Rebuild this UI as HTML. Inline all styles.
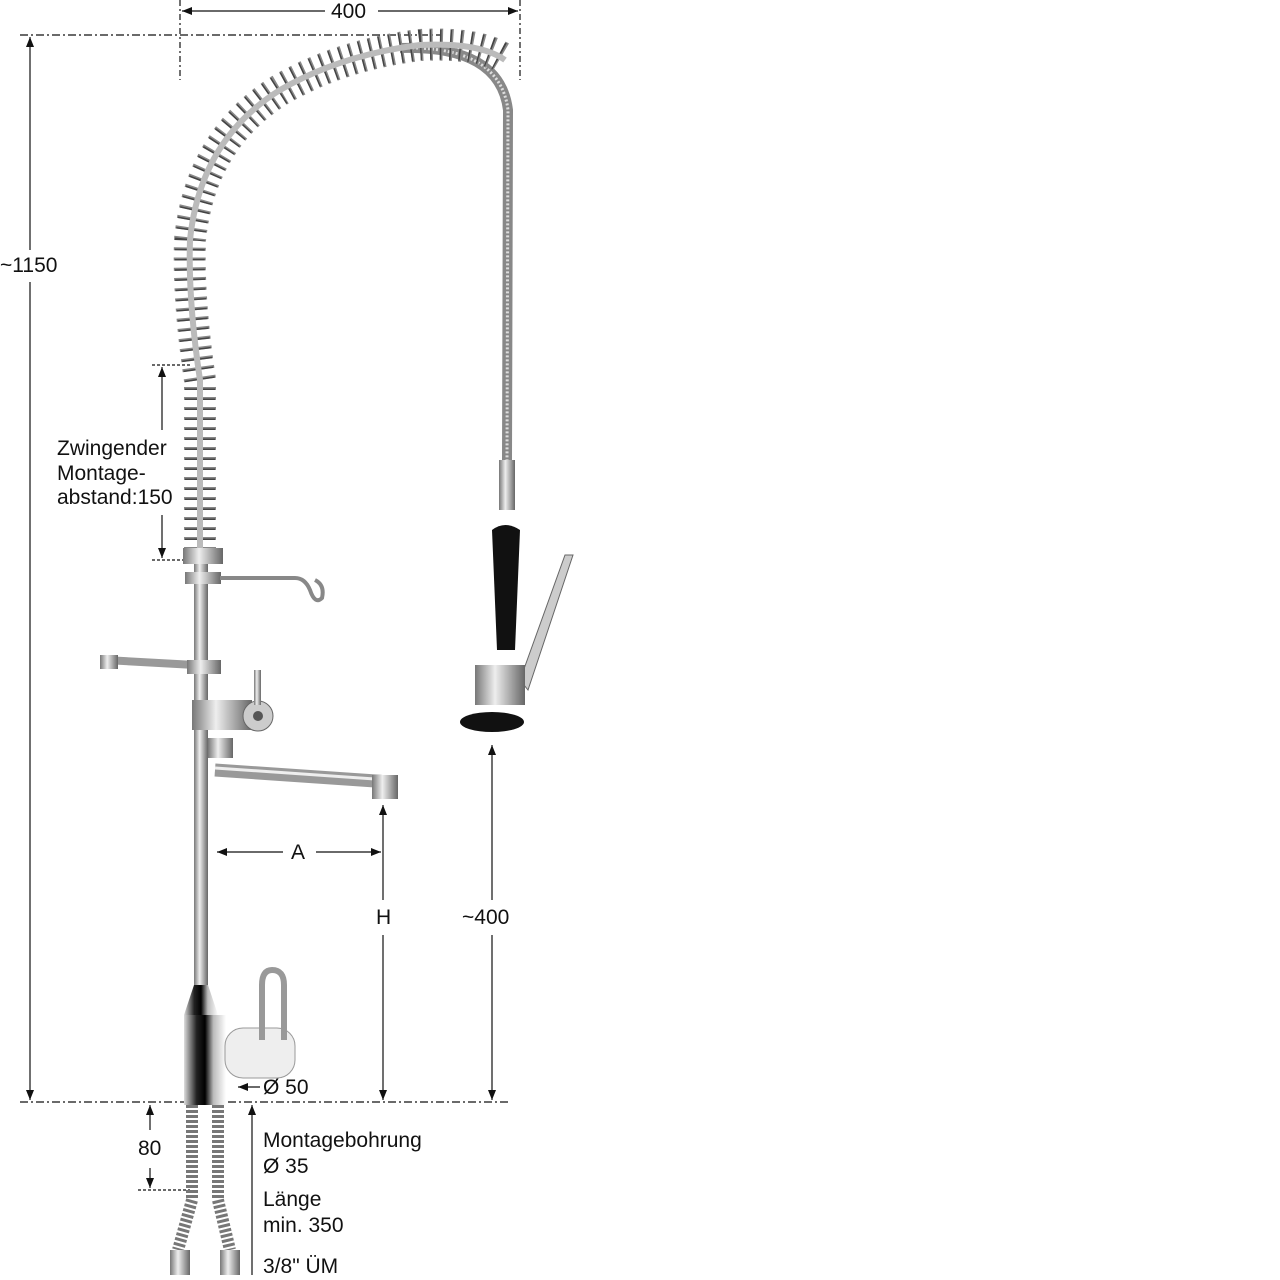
<!DOCTYPE html>
<html><head><meta charset="utf-8"><style>
html,body{margin:0;padding:0;background:#fff;}
svg{display:block}
text{font-family:"Liberation Sans",sans-serif;font-size:21px;fill:#111}
</style></head><body>
<svg width="1280" height="1280" viewBox="0 0 1280 1280" xmlns="http://www.w3.org/2000/svg">
<defs>
<marker id="a" viewBox="0 0 10 10" refX="10" refY="5" markerWidth="10" markerHeight="10" orient="auto-start-reverse" markerUnits="userSpaceOnUse"><path d="M0,1 L10,5 L0,9 z" fill="#111"/></marker>
<linearGradient id="steel" x1="0" x2="1"><stop offset="0" stop-color="#777"/><stop offset=".4" stop-color="#eee"/><stop offset="1" stop-color="#666"/></linearGradient>
<linearGradient id="chrome" x1="0" x2="1"><stop offset="0" stop-color="#ddd"/><stop offset=".3" stop-color="#222"/><stop offset=".5" stop-color="#000"/><stop offset=".7" stop-color="#bbb"/><stop offset="1" stop-color="#fff"/></linearGradient>
</defs>
<g stroke="#111" stroke-width="1.2" fill="none">
<line x1="180" y1="0" x2="180" y2="80" stroke-dasharray="6,3,2,3"/>
<line x1="520" y1="0" x2="520" y2="80" stroke-dasharray="6,3,2,3"/>
<line x1="182" y1="11" x2="325" y2="11" marker-start="url(#a)"/>
<line x1="378" y1="11" x2="518" y2="11" marker-end="url(#a)"/>
<line x1="20" y1="35" x2="440" y2="35" stroke-dasharray="8,3,2,3"/>
<line x1="20" y1="1102" x2="510" y2="1102" stroke-dasharray="8,3,2,3"/>
<line x1="30" y1="37" x2="30" y2="250" marker-start="url(#a)"/>
<line x1="30" y1="282" x2="30" y2="1100" marker-end="url(#a)"/>
<line x1="152" y1="365" x2="190" y2="365" stroke-dasharray="3,2"/>
<line x1="152" y1="560" x2="190" y2="560" stroke-dasharray="3,2"/>
<line x1="162" y1="367" x2="162" y2="430" marker-start="url(#a)"/>
<line x1="162" y1="515" x2="162" y2="558" marker-end="url(#a)"/>
<line x1="217" y1="852" x2="283" y2="852" marker-start="url(#a)"/>
<line x1="316" y1="852" x2="381" y2="852" marker-end="url(#a)"/>
<line x1="383" y1="805" x2="383" y2="900" marker-start="url(#a)"/>
<line x1="383" y1="935" x2="383" y2="1100" marker-end="url(#a)"/>
<line x1="492" y1="745" x2="492" y2="900" marker-start="url(#a)"/>
<line x1="492" y1="935" x2="492" y2="1100" marker-end="url(#a)"/>
<line x1="150" y1="1105" x2="150" y2="1130" marker-start="url(#a)"/>
<line x1="150" y1="1168" x2="150" y2="1188" marker-end="url(#a)"/>
<line x1="138" y1="1190" x2="190" y2="1190" stroke-dasharray="3,2"/>
<line x1="252" y1="1105" x2="252" y2="1275" marker-start="url(#a)"/>
<line x1="260" y1="1087" x2="238" y2="1087" marker-end="url(#a)"/>
</g>
<path d="M400,48 Q500,45 508,110 L507,460" stroke="#888" stroke-width="10" fill="none"/>
<path d="M400,48 Q500,45 508,110 L507,460" stroke="#ddd" stroke-width="3" fill="none" stroke-dasharray="2,2"/>
<path d="M200,560 L200,380 Q188,300 190,240 Q200,140 280,90 Q340,55 420,45 Q480,42 505,60" stroke="#888" stroke-width="32" fill="none" stroke-dasharray="3,7"/>
<path d="M200,560 L200,380 Q188,300 190,240 Q200,140 280,90 Q340,55 420,45 Q480,42 505,60" stroke="#333" stroke-width="30" fill="none" stroke-dasharray="1.5,8.5" opacity=".8"/>
<path d="M200,560 L200,380 Q188,300 190,240 Q200,140 280,90 Q340,55 420,45 Q480,42 505,60" stroke="#bbb" stroke-width="6" fill="none"/>
<rect x="194" y="555" width="14" height="430" fill="url(#steel)"/>
<rect x="183" y="548" width="40" height="16" fill="url(#steel)"/>
<rect x="185" y="572" width="36" height="12" fill="url(#steel)"/>
<path d="M220,578 L295,578 Q305,578 310,590 Q315,605 322,598 Q325,585 315,580" stroke="#888" stroke-width="4" fill="none"/>
<path d="M105,660 L195,665" stroke="#999" stroke-width="8"/>
<rect x="100" y="655" width="18" height="14" fill="url(#steel)"/>
<rect x="187" y="660" width="34" height="14" fill="url(#steel)"/>
<rect x="192" y="700" width="60" height="30" fill="url(#steel)"/>
<circle cx="258" cy="716" r="15" fill="#ccc" stroke="#666"/>
<circle cx="258" cy="716" r="5" fill="#555"/>
<rect x="254" y="670" width="7" height="35" fill="url(#steel)"/>
<rect x="208" y="738" width="25" height="20" fill="url(#steel)"/>
<path d="M215,770 L390,782" stroke="#999" stroke-width="13"/>
<path d="M215,768 L390,780" stroke="#eee" stroke-width="3"/>
<rect x="372" y="775" width="26" height="24" fill="url(#steel)"/>
<rect x="499" y="460" width="16" height="50" fill="url(#steel)"/>
<path d="M492,530 Q505,520 520,530 L515,650 L497,650 Z" fill="#111"/>
<path d="M520,680 L565,555 L573,555 L528,690 Z" fill="#ccc" stroke="#666"/>
<rect x="475" y="665" width="50" height="40" fill="url(#steel)"/>
<ellipse cx="492" cy="722" rx="32" ry="10" fill="#111"/>
<path d="M194,985 L208,985 L218,1015 L184,1015 Z" fill="url(#chrome)"/>
<rect x="184" y="1015" width="42" height="90" fill="url(#chrome)"/>
<rect x="225" y="1028" width="70" height="50" rx="18" fill="#eee" stroke="#999"/>
<path d="M262,1040 L262,985 Q262,970 272,970 Q284,970 284,985 L284,1040" stroke="#999" stroke-width="6" fill="none"/>
<path d="M192,1105 L192,1200 L178,1250" stroke="#777" stroke-width="12" fill="none" stroke-dasharray="3,2"/>
<path d="M218,1105 L218,1200 L230,1250" stroke="#777" stroke-width="12" fill="none" stroke-dasharray="3,2"/>
<rect x="170" y="1250" width="20" height="25" fill="url(#steel)"/>
<rect x="220" y="1250" width="20" height="25" fill="url(#steel)"/>
<text x="331" y="18">400</text>
<text x="0" y="272">~1150</text>
<text x="57" y="455">Zwingender</text>
<text x="57" y="480">Montage-</text>
<text x="57" y="504">abstand:150</text>
<text x="291" y="859">A</text>
<text x="376" y="924">H</text>
<text x="462" y="924">~400</text>
<text x="263" y="1094">Ø 50</text>
<text x="138" y="1155">80</text>
<text x="263" y="1147">Montagebohrung</text>
<text x="263" y="1173">Ø 35</text>
<text x="263" y="1206">Länge</text>
<text x="263" y="1232">min. 350</text>
<text x="263" y="1273">3/8" ÜM</text>
</svg>
</body></html>
